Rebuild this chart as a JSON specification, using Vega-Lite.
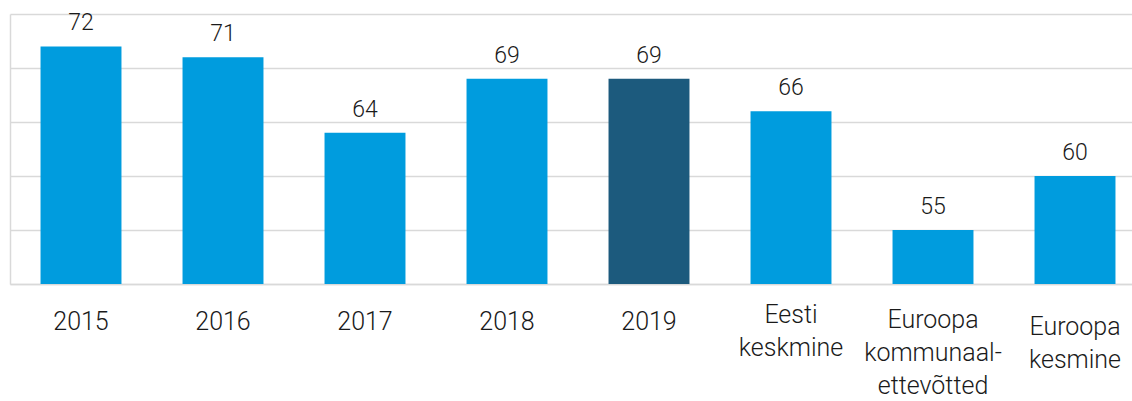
{
  "$schema": "https://vega.github.io/schema/vega-lite/v6.json",
  "autosize": "none",
  "width": 1122,
  "height": 270,
  "padding": {"left": 10, "top": 14, "right": 0, "bottom": 117},
  "background": "white",
  "config": {"view": {"stroke": null}, "font": "Roboto"},
  "data": {"values": [
    {"cat": "2015", "value": 72, "hl": "n"},
    {"cat": "2016", "value": 71, "hl": "n"},
    {"cat": "2017", "value": 64, "hl": "n"},
    {"cat": "2018", "value": 69, "hl": "n"},
    {"cat": "2019", "value": 69, "hl": "y"},
    {"cat": "Eesti keskmine", "value": 66, "hl": "n"},
    {"cat": "Euroopa kommunaalettevõtted", "value": 55, "hl": "n"},
    {"cat": "Euroopa kesmine", "value": 60, "hl": "n"}
  ]},
  "encoding": {
    "x": {"field": "cat", "type": "nominal", "sort": null,
      "scale": {"range": [0, 1136], "paddingInner": 0.43, "paddingOuter": 0.215},
      "axis": {"title": null, "labelAngle": 0, "ticks": false, "domainColor": "#d9d9d9", "domainWidth": 1.5,
        "labelFont": "Roboto", "labelFontWeight": 300, "labelFontSize": 25, "labelColor": "#1a1a1a",
        "labelBaseline": "top", "labelLineHeight": 33,
        "labelPadding": {"expr": "datum.value == 'Eesti keskmine' ? 18 : datum.value == 'Euroopa kesmine' ? 30 : datum.value == 'Euroopa kommunaalettevõtted' ? 23 : 25"},
        "labelExpr": "datum.value == 'Eesti keskmine' ? ['Eesti','keskmine'] : datum.value == 'Euroopa kommunaalettevõtted' ? ['Euroopa','kommunaal-','ettevõtted'] : datum.value == 'Euroopa kesmine' ? ['Euroopa','kesmine'] : datum.value"}},
    "y": {"field": "value", "type": "quantitative",
      "scale": {"domain": [50, 75], "nice": false, "zero": false},
      "axis": {"title": null, "labels": false, "ticks": false, "values": [50, 55, 60, 65, 70, 75],
        "grid": true, "gridColor": "#d9d9d9", "gridWidth": 1.5, "domain": true, "domainColor": "#d9d9d9", "domainWidth": 1.5}}
  },
  "layer": [
    {"mark": {"type": "bar"},
     "encoding": {"y2": {"datum": 50},
       "color": {"field": "hl", "type": "nominal", "legend": null,
       "scale": {"domain": ["n", "y"], "range": ["#009cde", "#1c5a7d"]}}}},
    {"mark": {"type": "text", "baseline": "alphabetic", "dy": -16, "font": "Roboto", "fontWeight": 300, "fontSize": 23, "color": "#1a1a1a"},
     "encoding": {"text": {"field": "value", "type": "quantitative"}}}
  ]
}
